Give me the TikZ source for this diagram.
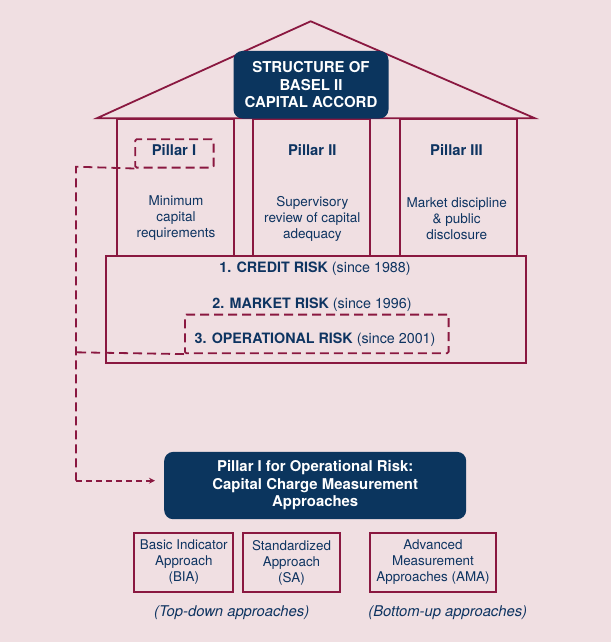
\documentclass[tikz,border=0pt]{standalone}
\usepackage{fontspec}
\setmainfont{TeX Gyre Heros}
\usetikzlibrary{arrows.meta}
\definecolor{bgc}{HTML}{F0DFE2}
\definecolor{wine}{HTML}{8A1840}
\definecolor{navy}{HTML}{0B355E}
\definecolor{txt}{HTML}{0E3461}
\tikzset{
  col/.style={draw=wine, line width=2pt, anchor=north west, inner sep=0pt},
  darkbox/.style={fill=navy, rounded corners=9pt, anchor=north west, inner sep=0pt, text=white, font=\fontsize{15}{17.8}\selectfont\bfseries, align=center},
  dbox/.style={draw=wine, line width=1.8pt, dash pattern=on 9pt off 5pt, rounded corners=1.5pt, anchor=north west, inner sep=0pt},
  plabel/.style={text=txt, font=\fontsize{14.8}{16}\selectfont\bfseries},
  desc/.style={text=txt, font=\fontsize{13.5}{16}\selectfont, align=center},
  risk/.style={text=txt, font=\fontsize{14.3}{16}\selectfont},
  appr/.style={draw=wine, line width=2pt, anchor=north west, inner sep=0pt, text=txt, font=\fontsize{13.4}{16}\selectfont, align=center},
  itl/.style={text=txt, font=\fontsize{14.8}{16}\selectfont\itshape},
  dline/.style={draw=wine, line width=1.8pt, dash pattern=on 9pt off 5pt},
  darrow/.style={draw=wine, line width=1.8pt, dash pattern=on 6pt off 4pt, -{Stealth[length=6pt,width=6pt]}},
}
\begin{document}
\begin{tikzpicture}[x=1pt,y=-1pt]
\useasboundingbox[fill=bgc] (0,0) rectangle (611,642);
% roof
\coordinate (roofL) at (96.7,118.3);
\coordinate (apex) at (310.7,21.3);
\coordinate (roofR) at (535,118.3);
\draw[wine, line width=1.8pt, line join=miter] (roofL) -- (apex) -- (roofR) -- cycle;
% columns
\node[col, minimum width=117.3pt, minimum height=136.7pt] (col1) at (116,118.3) {};
\node[col, minimum width=117.3pt, minimum height=136.7pt] (col2) at (251.7,118.3) {};
\node[col, minimum width=116.7pt, minimum height=136.7pt] (col3) at (399,118.3) {};
% title
\node[darkbox, minimum width=155pt, minimum height=67.6pt] (title) at (233.3,50.7) {STRUCTURE OF\\BASEL II\\CAPITAL ACCORD};
% pillar labels
\node[dbox, minimum width=78.4pt, minimum height=28.4pt] (p1box) at (134.3,138.3) {};
\node[plabel] (p1) at (174,150) {Pillar I};
\node[plabel] (p2) at (312.3,150) {Pillar II};
\node[plabel] (p3) at (456.5,150) {Pillar III};
% descriptions
\node[desc] (d1) at (176,218.5) {Minimum\\capital\\requirements};
\node[desc] (d2) at (312.3,218.5) {Supervisory\\review of capital\\adequacy};
\node[desc] (d3) at (456.7,218.5) {Market discipline\\\& public\\disclosure};
% risk box
\node[col, minimum width=420pt, minimum height=107.3pt] (riskbox) at (105,255) {};
\node[risk] (r1) at (315,269) {\textbf{1. CREDIT RISK} (since 1988)};
\node[risk] (r2) at (312,304.3) {\textbf{2. MARKET RISK} (since 1996)};
\node[dbox, minimum width=263.7pt, minimum height=38.6pt] (opbox) at (184,313.7) {};
\node[risk] (r3) at (315,339.5) {\textbf{3. OPERATIONAL RISK} (since 2001)};
% bottom dark box
\node[darkbox, font=\fontsize{14.9}{17.5}\selectfont\bfseries, minimum width=302pt, minimum height=67.3pt] (pillarop) at (164,451.7) {Pillar I for Operational Risk:\\Capital Charge Measurement\\Approaches};
% approaches
\node[appr, minimum width=99pt, minimum height=59.6pt] (bia) at (133.3,531.7) {Basic Indicator\\Approach\\(BIA)};
\node[appr, minimum width=97.6pt, minimum height=59.6pt] (sa) at (241.7,531.7) {Standardized\\Approach\\(SA)};
\node[appr, minimum width=126pt, minimum height=59.6pt] (ama) at (369,531.7) {Advanced\\Measurement\\Approaches (AMA)};
\node[itl] (td) at (231.7,613) {(Top-down approaches)};
\node[itl] (bu) at (447.7,613) {(Bottom-up approaches)};
% dashed connectors
\coordinate (c1) at (76,166.7);
\coordinate (c2) at (76,352.3);
\coordinate (c3) at (76,480.7);
\coordinate (arr) at (155,480.7);
\draw[dline] (p1box.south west) -- (c1) -- (c3);
\draw[dline] (opbox.south west) -- (c2);
\draw[darrow] (c3) -- (arr);
\end{tikzpicture}
\end{document}
